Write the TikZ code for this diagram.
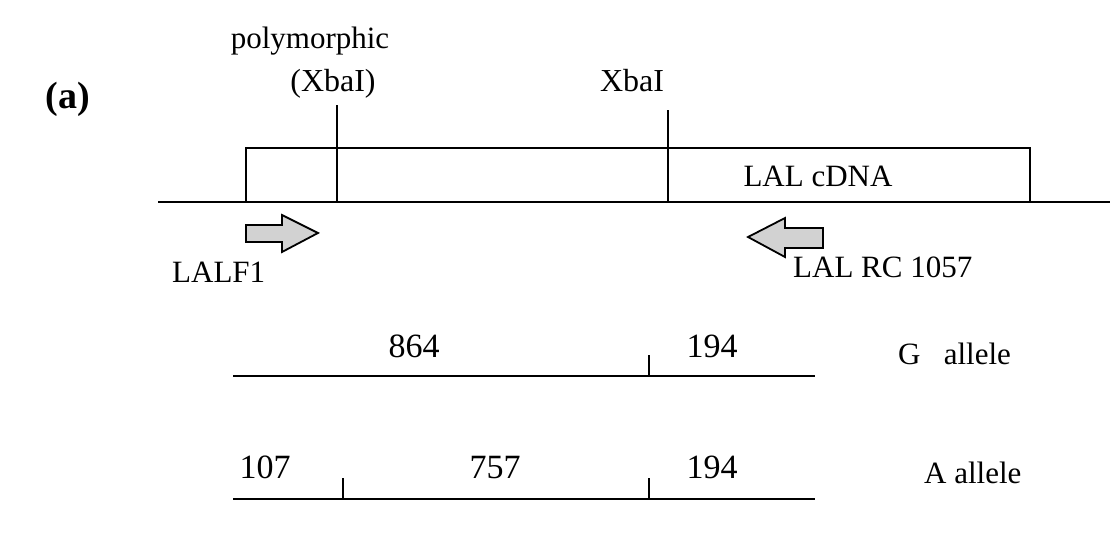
\documentclass[tikz,border=0pt]{standalone}
\usepackage{fontspec}
\setmainfont{Liberation Serif}
\begin{document}
\begin{tikzpicture}[x=1pt,y=-1pt,
  lbl/.style={inner sep=0pt,anchor=base,font=\fontsize{31}{36}\selectfont},
  num/.style={lbl,font=\fontsize{34}{38}\selectfont},
  ln/.style={line width=1.8pt},
  primer/.style={draw,line width=1.8pt,fill=gray!35,line join=miter}]
\useasboundingbox (0,0) rectangle (1110,533);
\node[lbl,font=\fontsize{38}{42}\selectfont\bfseries] (a) at (68,108) {(a)};
\node[lbl] (poly) at (310,48) {polymorphic};
\node[lbl,font=\fontsize{32}{36}\selectfont] (pxba) at (333,91) {(XbaI)};
\node[lbl,font=\fontsize{32}{36}\selectfont] (xba) at (632,91) {XbaI};
% gene box
\node[draw,ln,outer sep=0pt,minimum width=784pt,minimum height=54pt,inner sep=0pt,anchor=north west] (box) at (246,148) {};
\node[lbl] (cdna) at (818,186) {LAL cDNA};
\coordinate (l0) at (158,202);
\coordinate (r0) at (1110,202);
\draw[ln] (l0) -- (box.south west);
\draw[ln] (box.south east) -- (r0);
\coordinate (s1t) at (337,105);
\coordinate (s1b) at (337,202);
\coordinate (s2t) at (668,110);
\coordinate (s2b) at (668,202);
\draw[ln] (s1t) -- (s1b);
\draw[ln] (s2t) -- (s2b);
% primers
\draw[primer] (246,225) -- (282,225) -- (282,215) -- (318,233) -- (282,252) -- (282,242) -- (246,242) -- cycle;
\draw[primer] (823,228) -- (785,228) -- (785,218) -- (748,237) -- (785,257) -- (785,248) -- (823,248) -- cycle;
\node[lbl,anchor=base west] (f1) at (172,282) {LALF1};
\node[lbl,anchor=base west] (rc) at (793,277) {LAL RC 1057};
% G allele
\coordinate (g0) at (233,376);
\coordinate (g1) at (815,376);
\coordinate (gtb) at (649,376);
\coordinate (gtt) at (649,355);
\draw[ln] (g0) -- (g1);
\draw[ln] (gtt) -- (gtb);
\node[num] (n864) at (414,357) {864};
\node[num] (g194) at (712,357) {194};
\node[lbl,anchor=base west] (gal) at (898,364) {G\hspace{0.75em}allele};
% A allele
\coordinate (a0) at (233,499);
\coordinate (a1) at (815,499);
\coordinate (at1b) at (343,499);
\coordinate (at1t) at (343,478);
\coordinate (at2b) at (649,499);
\coordinate (at2t) at (649,478);
\draw[ln] (a0) -- (a1);
\draw[ln] (at1t) -- (at1b);
\draw[ln] (at2t) -- (at2b);
\node[num] (n107) at (265,478) {107};
\node[num] (n757) at (495,478) {757};
\node[num] (a194) at (712,478) {194};
\node[lbl,anchor=base west] (aal) at (924,483) {A allele};
\end{tikzpicture}
\end{document}
